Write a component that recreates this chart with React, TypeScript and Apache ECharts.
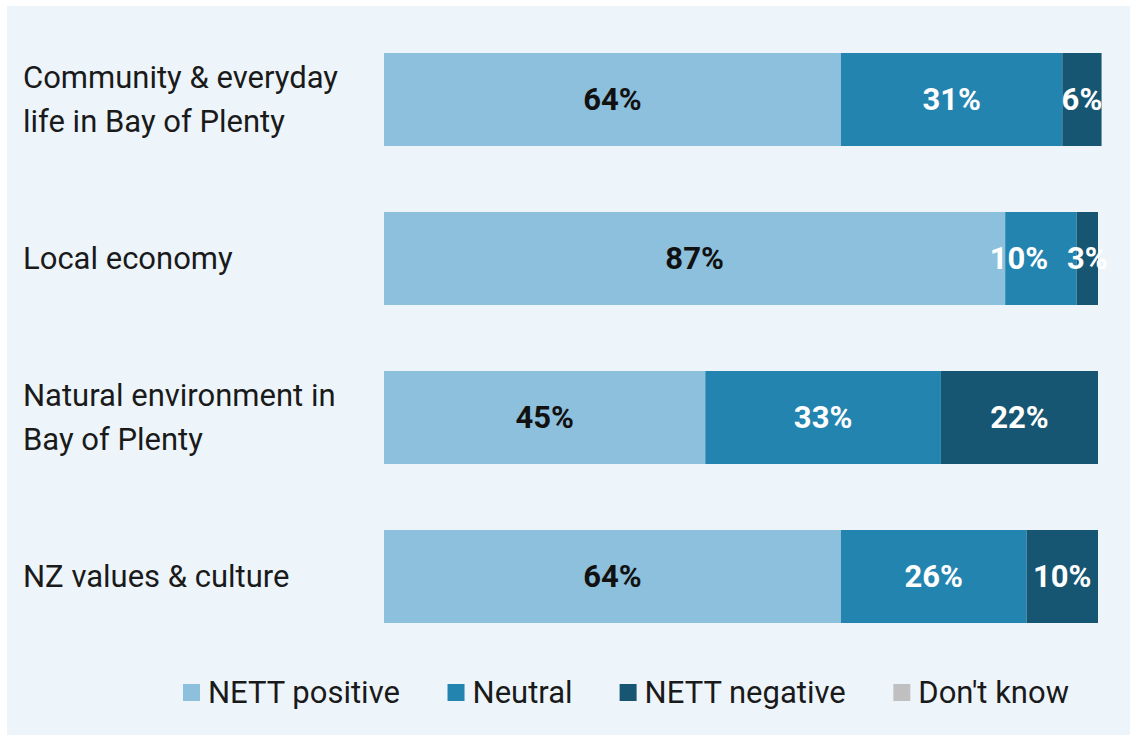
import React, { useEffect, useRef } from "react";
import * as echarts from "echarts";

const categories = [
  "Community & everyday\nlife in Bay of Plenty",
  "Local economy",
  "Natural environment in\nBay of Plenty",
  "NZ values & culture",
];
const nettPositive = [64, 87, 45, 64];
const neutral = [31, 10, 33, 26];
const nettNegative = [5.5, 3, 22, 10];
const dontKnow = [0, 0, 0, 0];
const seriesNames = ["NETT positive", "Neutral", "NETT negative", "Don't know"];
const colors = ["#8DC0DC", "#2384AF", "#175672", "#C0C0C0"];

const FONT = "Roboto";

export default function App() {
  const ref = useRef<HTMLDivElement>(null);
  useEffect(() => {
    if (!ref.current) return;
    const chart = echarts.init(ref.current, null, { renderer: "svg" });
    const mk = (
      name: string,
      data: number[],
      color: string,
      labelColor: string,
      offsets: Record<number, number[]> = {}
    ) => ({
      name,
      type: "bar",
      stack: "total",
      data: data.map((v, i) =>
        offsets[i] ? { value: v, label: { offset: offsets[i] } } : v
      ),
      barWidth: 93,
      clip: false,
      itemStyle: { color },
      label: {
        show: true,
        position: "inside",
        formatter: (p: any) => (p.value > 0 ? Math.round(p.value) + "%" : ""),
        color: labelColor,
        fontFamily: FONT,
        fontWeight: "bold",
        fontSize: 31,
      },
    });
    chart.setOption({
      animation: false,
      backgroundColor: "transparent",
      graphic: [
        {
          type: "rect",
          left: 7,
          top: 6,
          shape: { width: 1123, height: 729 },
          style: { fill: "#EDF5FB" },
          z: -10,
        },
      ],
      color: colors,
      grid: { left: 384, top: 20, width: 714, height: 636, containLabel: false },
      xAxis: {
        type: "value",
        min: 0,
        max: 100,
        show: false,
      },
      yAxis: {
        type: "category",
        data: categories,
        inverse: true,
        axisLine: { show: false },
        axisTick: { show: false },
        axisLabel: {
          align: "left",
          margin: 361,
          color: "#1a1a1a",
          fontFamily: FONT,
          fontSize: 31,
          lineHeight: 44,
        },
      },
      legend: {
        left: 178,
        top: 672,
        itemWidth: 17,
        itemHeight: 17,
        itemGap: 47,
        icon: "rect",
        textStyle: { color: "#1a1a1a", fontFamily: FONT, fontSize: 31, padding: [0, 0, 0, 3] },
        data: seriesNames,
      },
      series: [
        mk(seriesNames[0], nettPositive, colors[0], "#111"),
        mk(seriesNames[1], neutral, colors[1], "#fff", { 1: [-22, 0] }),
        mk(seriesNames[2], nettNegative, colors[2], "#fff"),
        mk(seriesNames[3], dontKnow, colors[3], "#111"),
      ],
    });
    return () => chart.dispose();
  }, []);
  return (
    <div style={{ position: "absolute", left: 0, top: 0, width: 1130, height: 735, background: "#fff" }}>
      <div ref={ref} style={{ width: 1130, height: 735 }} />
    </div>
  );
}
